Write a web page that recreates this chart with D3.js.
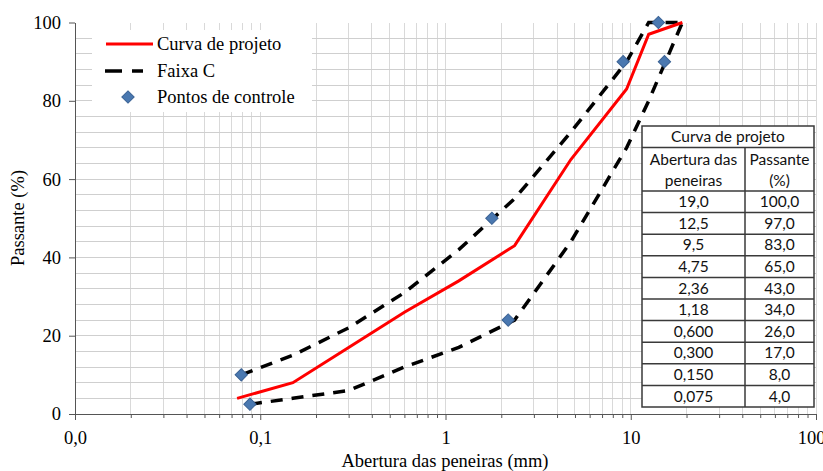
<!DOCTYPE html>
<html>
<head>
<meta charset="utf-8">
<script src="https://cdn.jsdelivr.net/npm/d3@7"></script>
<style>
  body { margin: 0; background: #fff; }
  svg { display: block; }
  .serif { font-family: "Liberation Serif", "Times New Roman", serif; fill: #000; }
  .tbl { font-family: Lato, "Noto Sans", sans-serif; fill: #111; }
</style>
</head>
<body>
<script>
'use strict';

// sieve openings (mm) of the project curve
const sieves = [0.075, 0.15, 0.3, 0.6, 1.18, 2.36, 4.75, 9.5, 12.5, 19];
const projectPassing = [4, 8, 17, 26, 34, 43, 65, 83, 97, 100];
// Faixa C limits (the first point of each limit sits on a control point)
const bandUpperSize = [0.079, 0.15, 0.3, 0.6, 1.18, 2.36, 4.75, 9.5, 12.5, 19];
const bandUpper = [10, 15, 22, 31, 42, 55, 72, 90, 100, 100];
const bandLowerSize = [0.088, 0.15, 0.3, 0.6, 1.18, 2.36, 4.75, 9.5, 12.5, 19];
const bandLower = [2.5, 4, 6, 12, 17, 24, 44, 68, 80, 100];
// control points
const controlSize = [0.079, 0.088, 1.78, 2.18, 9.1, 15.2, 14.1];
const controlPassing = [10, 2.5, 50, 24, 90, 90, 100];

const xTickValues = [0.01, 0.1, 1, 10, 100];
const xTickLabels = ["0,0", "0,1", "1", "10", "100"];
const yTickValues = [0, 20, 40, 60, 80, 100];
const tableSieveLabels = ["19,0", "12,5", "9,5", "4,75", "2,36", "1,18", "0,600", "0,300", "0,150", "0,075"];

(function() {

  window.onload = function() {

    let width = 823;
    let height = 471;
    let svg = d3.select("body")
      .append("svg")
      .attr("width", width)
      .attr("height", height);

    let x = d3.scaleLog().domain([0.01, 100]).range([75, 816]);
    let y = d3.scaleLinear().domain([0, 100]).range([414, 22.5]);

    // gridlines
    let minorX = [];
    for (let d = 0.01; d < 100; d *= 10) {
      for (let k = 2; k <= 10; k++) minorX.push(+(d * k).toPrecision(3));
    }
    let grid = svg.append("g").attr("shape-rendering", "crispEdges");
    grid.selectAll("line.v")
      .data(minorX)
      .enter()
      .append("line")
      .attr("class", "v")
      .attr("x1", d => x(d)).attr("x2", d => x(d))
      .attr("y1", y(0)).attr("y2", y(100))
      .attr("stroke", "#d9d9d9");
    grid.selectAll("line.h")
      .data(d3.range(4, 100, 4))
      .enter()
      .append("line")
      .attr("class", "h")
      .attr("x1", x(0.01)).attr("x2", x(100))
      .attr("y1", d => y(d)).attr("y2", d => y(d))
      .attr("stroke", "#cfcfcf");

    // axes
    let xAxis = svg.append("g")
      .attr("transform", "translate(0," + y(0) + ")");
    xAxis.append("g")
      .call(d3.axisBottom(x).tickValues(minorX.filter(d => xTickValues.indexOf(d) < 0)).tickSize(4).tickFormat(""))
      .call(g => g.select(".domain").remove());
    xAxis.append("g")
      .call(d3.axisBottom(x).tickValues(xTickValues).tickSize(6).tickSizeOuter(0)
        .tickFormat((d, i) => xTickLabels[i]));
    xAxis.selectAll("line, path").attr("stroke", "#555");
    xAxis.selectAll("text")
      .attr("class", "serif")
      .attr("font-size", "18.5px")
      .attr("dy", null)
      .attr("y", 30)
      .attr("dx", d => d === 100 ? -5 : 0);

    let yAxis = svg.append("g")
      .attr("transform", "translate(" + x(0.01) + ",0)")
      .call(d3.axisLeft(y).tickValues(yTickValues).tickSize(6).tickSizeOuter(0).tickPadding(8));
    yAxis.selectAll("line, path").attr("stroke", "#555");
    yAxis.selectAll("text")
      .attr("class", "serif")
      .attr("font-size", "18.5px");

    svg.append("text")
      .attr("class", "serif")
      .attr("font-size", "18.5px")
      .attr("text-anchor", "middle")
      .attr("x", 445)
      .attr("y", 467)
      .text("Abertura das peneiras (mm)");
    svg.append("text")
      .attr("class", "serif")
      .attr("font-size", "18.5px")
      .attr("text-anchor", "middle")
      .attr("transform", "translate(24,218) rotate(-90)")
      .text("Passante (%)");

    // series
    let line = d3.line()
      .x(d => x(d[0]))
      .y(d => y(d[1]));

    let band = [d3.zip(bandUpperSize, bandUpper), d3.zip(bandLowerSize, bandLower)];
    svg.append("g")
      .selectAll("path")
      .data(band)
      .enter()
      .append("path")
      .attr("d", line)
      .attr("fill", "none")
      .attr("stroke", "#000")
      .attr("stroke-width", 3.5)
      .attr("stroke-dasharray", "12,9");

    svg.append("path")
      .datum(d3.zip(sieves, projectPassing))
      .attr("d", line)
      .attr("fill", "none")
      .attr("stroke", "#ff0000")
      .attr("stroke-width", 3);

    let diamond = d3.symbol().type(d3.symbolSquare).size(76);
    svg.append("g")
      .selectAll("path")
      .data(d3.zip(controlSize, controlPassing))
      .enter()
      .append("path")
      .attr("d", diamond)
      .attr("transform", d => "translate(" + x(d[0]) + "," + y(d[1]) + ") rotate(45)")
      .attr("fill", "#4a78b0")
      .attr("stroke", "#3b6294")
      .attr("stroke-width", 1);

    // legend
    let legend = svg.append("g");
    legend.append("rect")
      .attr("x", 92).attr("y", 30)
      .attr("width", 220).attr("height", 82)
      .attr("fill", "#fff");
    legend.append("line")
      .attr("x1", 106).attr("x2", 153).attr("y1", 44).attr("y2", 44)
      .attr("stroke", "#ff0000").attr("stroke-width", 3);
    legend.append("line")
      .attr("x1", 105).attr("x2", 143).attr("y1", 71).attr("y2", 71)
      .attr("stroke", "#000").attr("stroke-width", 3.5)
      .attr("stroke-dasharray", "17,10");
    legend.append("path")
      .attr("d", diamond)
      .attr("transform", "translate(128,97) rotate(45)")
      .attr("fill", "#4a78b0")
      .attr("stroke", "#3b6294");
    legend.selectAll("text")
      .data(["Curva de projeto", "Faixa C", "Pontos de controle"])
      .enter()
      .append("text")
      .attr("class", "serif")
      .attr("font-size", "18.5px")
      .attr("x", 157)
      .attr("y", (d, i) => 44 + i * 26.5)
      .attr("dy", "0.33em")
      .text(d => d);

    // table
    let tx0 = 642, tx1 = 745, tx2 = 814;
    let rowTop = 191, rowH = 21.6;
    let table = svg.append("g");
    table.append("rect")
      .attr("x", tx0).attr("y", 126)
      .attr("width", tx2 - tx0).attr("height", rowTop + rowH * 10 - 126)
      .attr("fill", "#fff")
      .attr("stroke", "#3a3a3a")
      .attr("stroke-width", 1.5);
    let hLines = [147.5, rowTop].concat(d3.range(1, 10).map(i => rowTop + i * rowH));
    table.selectAll("line.row")
      .data(hLines)
      .enter()
      .append("line")
      .attr("class", "row")
      .attr("x1", tx0).attr("x2", tx2)
      .attr("y1", d => d).attr("y2", d => d)
      .attr("stroke", "#3a3a3a")
      .attr("stroke-width", 1.5);
    table.append("line")
      .attr("x1", tx1).attr("x2", tx1)
      .attr("y1", 147.5).attr("y2", rowTop + rowH * 10)
      .attr("stroke", "#3a3a3a")
      .attr("stroke-width", 1.5);

    let c1 = (tx0 + tx1) / 2, c2 = (tx1 + tx2) / 2;
    let headers = [
      [(tx0 + tx2) / 2, 137, "Curva de projeto"],
      [c1, 159.5, "Abertura das"],
      [c1, 181, "peneiras"],
      [c2, 159.5, "Passante"],
      [c2, 181, "(%)"]
    ];
    table.selectAll("text.head")
      .data(headers)
      .enter()
      .append("text")
      .attr("class", "tbl head")
      .attr("font-size", "15.5px")
      .attr("text-anchor", "middle")
      .attr("x", d => d[0])
      .attr("y", d => d[1])
      .attr("dy", "0.35em")
      .text(d => d[2]);

    let passingLabels = projectPassing.slice().reverse().map(v => v.toFixed(1).replace(".", ","));
    let rows = d3.zip(tableSieveLabels, passingLabels);
    let rowG = table.selectAll("g.r")
      .data(rows)
      .enter()
      .append("g")
      .attr("class", "r")
      .attr("transform", (d, i) => "translate(0," + (rowTop + rowH * (i + 0.5)) + ")");
    rowG.append("text")
      .attr("class", "tbl")
      .attr("font-size", "15.5px")
      .attr("text-anchor", "middle")
      .attr("x", c1)
      .attr("dy", "0.35em")
      .text(d => d[0]);
    rowG.append("text")
      .attr("class", "tbl")
      .attr("font-size", "15.5px")
      .attr("text-anchor", "middle")
      .attr("x", c2)
      .attr("dy", "0.35em")
      .text(d => d[1]);
  }
})();
</script>
</body>
</html>
